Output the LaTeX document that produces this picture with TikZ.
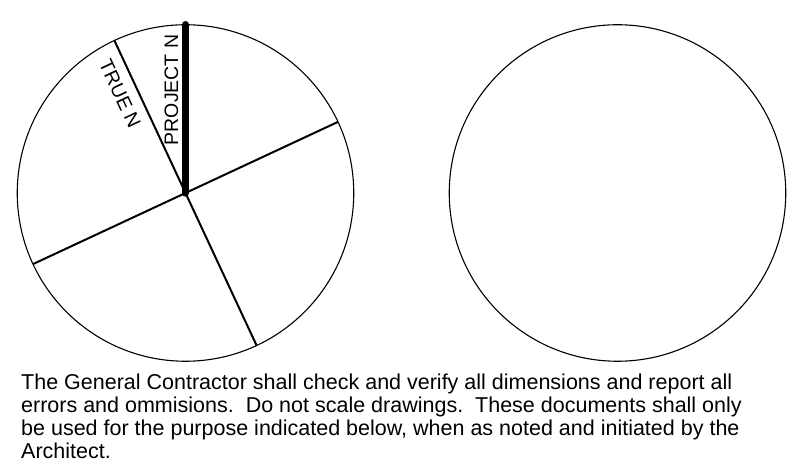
\documentclass[tikz,border=0pt]{standalone}
\usepackage{fontspec}
\setmainfont{Liberation Sans}
\begin{document}
\begin{tikzpicture}[x=1pt,y=1pt,
  dial/.style={circle, draw=black, line width=1.1pt, minimum size=336.5pt, inner sep=0pt, outer sep=0pt},
  spoke/.style={draw=black, line width=2pt},
  projn/.style={draw=black, line width=7.5pt, line cap=round},
  lbl/.style={inner sep=0pt, font=\fontsize{19.5}{22}\selectfont},
  note/.style={inner sep=0pt, anchor=north west, align=left, font=\fontsize{21.5}{23}\selectfont}]
\useasboundingbox (0,0) rectangle (809,476);
\node[dial] (L) at (185.5,283) {};
\node[dial] (R) at (617.5,283) {};
\draw[spoke] (L.center) -- (L.25);
\draw[spoke] (L.center) -- (L.115);
\draw[spoke] (L.center) -- (L.205);
\draw[spoke] (L.center) -- (L.295);
\draw[projn] (L.center) -- (L.90);
\node[lbl, rotate=90] (pn) at (171.5,386) {PROJECT N};
\node[lbl, rotate=-65] (tn) at (120,382) {TRUE N};
\node[note] (txt) at (21,102.3) {The General Contractor shall check and verify all dimensions and report all\\
errors and ommisions.\ \ Do not scale drawings.\ \ These documents shall only\\
be used for the purpose indicated below, when as noted and initiated by the\\
Architect.};
\end{tikzpicture}
\end{document}
